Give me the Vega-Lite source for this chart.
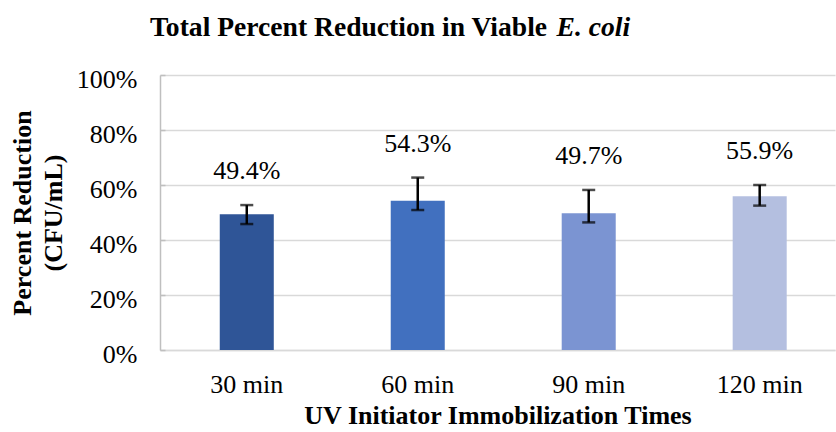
{
  "$schema": "https://vega.github.io/schema/vega-lite/v6.json",
  "autosize": "none",
  "width": 675,
  "height": 275,
  "padding": {"left": 160, "top": 75, "right": 1, "bottom": 82},
  "background": "white",
  "title": {
    "text": "Total Percent Reduction in Viable",
    "font": "Liberation Serif, Times New Roman, serif",
    "fontSize": 27.6,
    "fontWeight": "bold",
    "color": "black",
    "anchor": "start",
    "frame": "group",
    "baseline": "alphabetic",
    "dx": -10,
    "offset": -51
  },
  "data": {
    "values": [
      {"time": "30 min", "v": 0.494, "lo": 0.458, "hi": 0.527},
      {"time": "60 min", "v": 0.543, "lo": 0.509, "hi": 0.627},
      {"time": "90 min", "v": 0.497, "lo": 0.464, "hi": 0.582},
      {"time": "120 min", "v": 0.559, "lo": 0.525, "hi": 0.600}
    ]
  },
  "resolve": {"axis": {"x": "independent"}},
  "layer": [
    {
      "mark": {"type": "bar"},
      "encoding": {
        "x": {
          "field": "time",
          "type": "nominal",
          "sort": null,
          "scale": {"paddingInner": 0.684, "paddingOuter": 0.316, "align": 0.553},
          "axis": {
            "title": "UV Initiator Immobilization Times",
            "labelAngle": 0,
            "ticks": false,
            "grid": false,
            "domainColor": "#D9D9D9",
            "domainWidth": 1.5,
            "labelPadding": 21,
            "titlePadding": 5
          }
        },
        "y": {
          "field": "v",
          "type": "quantitative",
          "scale": {"domain": [0, 1], "nice": false},
          "axis": {
            "title": ["Percent Reduction", "(CFU/mL)"],
            "values": [0, 0.05, 0.1, 0.15, 0.2, 0.25, 0.3, 0.35, 0.4, 0.45, 0.5, 0.55, 0.6, 0.65, 0.7, 0.75, 0.8, 0.85, 0.9, 0.95, 1],
            "format": ".0%",
            "labelExpr": "round(datum.value*100) % 20 === 0 ? datum.label : ''",
            "grid": true,
            "gridColor": "#D9D9D9",
            "gridWidth": 1.5,
            "gridOpacity": {"condition": {"test": "round(datum.value*100) % 20 === 0", "value": 1}, "value": 0},
            "ticks": true,
            "tickSize": -5,
            "tickColor": "#BFBFBF",
            "tickWidth": 1.5,
            "domainColor": "#BFBFBF",
            "domainWidth": 1.5,
            "labelPadding": 28,
            "labelOffset": 4,
            "titlePadding": 10,
            "titleLineHeight": 31
          }
        },
        "color": {
          "field": "time",
          "type": "nominal",
          "sort": null,
          "legend": null,
          "scale": {"domain": ["30 min", "60 min", "90 min", "120 min"], "range": ["#2F5597", "#4170BF", "#7B94D2", "#B4BFE0"]}
        }
      }
    },
    {
      "mark": {"type": "rule", "color": "black", "strokeWidth": 2.5},
      "encoding": {
        "x": {"field": "time", "type": "nominal", "sort": null, "axis": null},
        "y": {"field": "lo", "type": "quantitative"},
        "y2": {"field": "hi"}
      }
    },
    {
      "mark": {"type": "tick", "color": "black", "thickness": 2.5, "size": 13},
      "encoding": {
        "x": {"field": "time", "type": "nominal", "sort": null, "axis": null},
        "y": {"field": "lo", "type": "quantitative"}
      }
    },
    {
      "mark": {"type": "tick", "color": "black", "thickness": 2.5, "size": 13},
      "encoding": {
        "x": {"field": "time", "type": "nominal", "sort": null, "axis": null},
        "y": {"field": "hi", "type": "quantitative"}
      }
    },
    {
      "mark": {"type": "text", "font": "Liberation Serif, Times New Roman, serif", "fontSize": 26, "color": "black", "baseline": "middle", "dy": -34},
      "encoding": {
        "x": {
          "field": "time",
          "type": "nominal",
          "sort": null,
          "axis": {
            "orient": "top",
            "title": "E. coli",
            "titleFontStyle": "italic",
            "titleFontSize": 27.6,
            "titleFontWeight": "bold",
            "titleAlign": "left",
            "titleBaseline": "alphabetic",
            "titleAngle": 0,
            "titleX": 396,
            "titleY": -40,
            "labels": false,
            "ticks": false,
            "domain": false,
            "grid": false
          }
        },
        "y": {"field": "hi", "type": "quantitative"},
        "text": {"field": "v", "type": "quantitative", "format": ".1%"}
      }
    }
  ],
  "config": {
    "view": {"stroke": null},
    "font": "Liberation Serif, Times New Roman, serif",
    "axis": {
      "labelFont": "Liberation Serif, Times New Roman, serif",
      "labelFontSize": 26,
      "labelColor": "black",
      "titleFont": "Liberation Serif, Times New Roman, serif",
      "titleFontSize": 26,
      "titleFontWeight": "bold",
      "titleColor": "black"
    }
  }
}
